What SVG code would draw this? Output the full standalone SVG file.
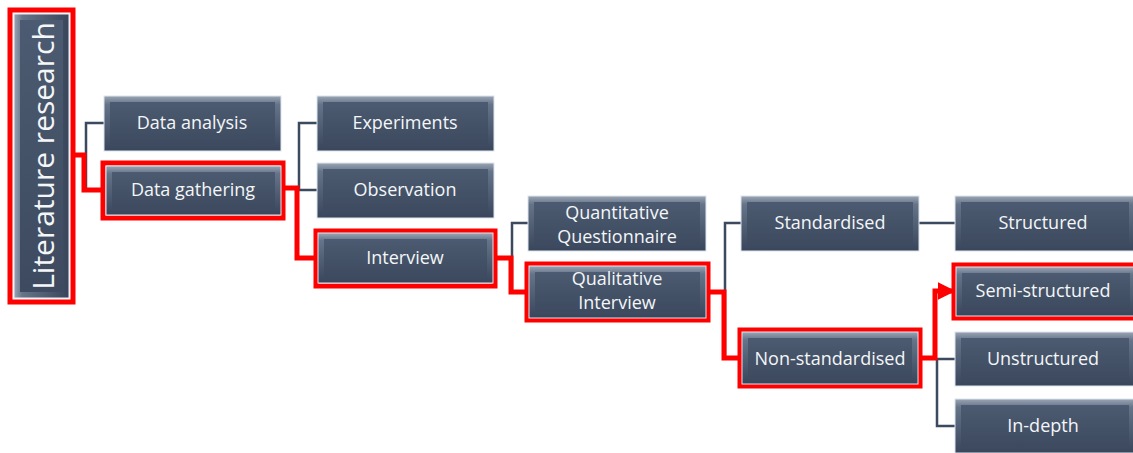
<svg xmlns="http://www.w3.org/2000/svg" width="1133" height="453" viewBox="0 0 1133 453">
<defs>
<linearGradient id="bev" x1="0" y1="0" x2="0" y2="1">
<stop offset="0" stop-color="#9aa5b3"/><stop offset="0.15" stop-color="#66748a"/><stop offset="1" stop-color="#38455a"/>
</linearGradient>
<linearGradient id="face" x1="0" y1="0" x2="0" y2="1">
<stop offset="0" stop-color="#4c5b71"/><stop offset="1" stop-color="#3d4a5f"/>
</linearGradient>
<linearGradient id="bevV" x1="0" y1="0" x2="1" y2="0">
<stop offset="0" stop-color="#9aa5b3"/><stop offset="0.15" stop-color="#66748a"/><stop offset="1" stop-color="#38455a"/>
</linearGradient>
<marker id="arr" viewBox="0 0 10 10" refX="8" refY="5" markerWidth="3.6" markerHeight="3.6" orient="auto" markerUnits="strokeWidth">
<path d="M0,0 L10,5 L0,10 z" fill="#ff0000"/>
</marker>
</defs>
<style>
.o{fill:url(#bev);stroke:#dce6f0;stroke-width:1}
.f{fill:url(#face)}
.hl{fill:none;stroke:#ff0000;stroke-width:5}
.t{font-family:"Open Sans","Liberation Sans",sans-serif;font-size:18px;fill:#f4f6f8;text-anchor:middle}
.c{fill:none;stroke:#3b4a5e;stroke-width:2.5}
.r{fill:none;stroke:#ff0000;stroke-width:5;stroke-linejoin:miter}
</style>
<g id="connectors">
<path class="c" d="M104,123 H86 V190 H101"/>
<path class="c" d="M317,123 H299 V190 H317"/>
<path class="c" d="M528,223 H512 V292"/>
<path class="c" d="M741,223 H725 V358"/>
<path class="c" d="M919,223 H955"/>
<path class="c" d="M955,359 H937 V426 H955"/>
<path class="r" d="M73,155 H84 V190 H101"/>
<path class="r" d="M285,188 H297 V258 H314"/>
<path class="r" d="M497,258 H511 V292 H525"/>
<path class="r" d="M710,292 H724 V358 H738"/>
<path class="r" d="M922,358 H935 V291 H952" marker-end="url(#arr)"/>
</g>
<g id="n-lit">
<rect x="10" y="10" width="63" height="292" fill="none" stroke="#ff0000" stroke-width="5"/>
<rect x="14" y="14" width="55" height="284" fill="url(#bevV)" stroke="#e8eef5" stroke-width="1"/>
<rect x="20" y="20" width="43" height="272" class="f"/>
<text class="t" transform="translate(54,156) rotate(-90)" style="font-size:30px">Literature research</text>
</g>
<g id="n-analysis">
<rect x="104" y="96" width="177" height="55" class="o"/>
<rect x="110" y="102" width="165" height="43" class="f"/>
<text class="t" x="192" y="129">Data analysis</text>
</g>
<g id="n-gathering">
<rect x="103" y="163" width="180" height="55" class="hl"/>
<rect x="106" y="166" width="175" height="49" class="o"/>
<rect x="112" y="172" width="163" height="37" class="f"/>
<text class="t" x="193" y="196">Data gathering</text>
</g>
<g id="n-experiments">
<rect x="317" y="96" width="177" height="55" class="o"/>
<rect x="323" y="102" width="165" height="43" class="f"/>
<text class="t" x="405" y="129">Experiments</text>
</g>
<g id="n-observation">
<rect x="317" y="163" width="177" height="55" class="o"/>
<rect x="323" y="169" width="165" height="43" class="f"/>
<text class="t" x="405" y="196">Observation</text>
</g>
<g id="n-interview">
<rect x="316" y="231" width="179" height="55" class="hl"/>
<rect x="318" y="233" width="175" height="50" class="o"/>
<rect x="324" y="239" width="163" height="38" class="f"/>
<text class="t" x="405" y="264">Interview</text>
</g>
<g id="n-quant">
<rect x="528" y="196" width="178" height="55" class="o"/>
<rect x="534" y="202" width="166" height="43" class="f"/>
<text class="t" x="617" y="219">Quantitative</text>
<text class="t" x="617" y="243">Questionnaire</text>
</g>
<g id="n-qual">
<rect x="527" y="264" width="181" height="56" class="hl"/>
<rect x="529" y="266" width="177" height="52" class="o"/>
<rect x="535" y="272" width="165" height="40" class="f"/>
<text class="t" x="617" y="285">Qualitative</text>
<text class="t" x="617" y="309">Interview</text>
</g>
<g id="n-std">
<rect x="741" y="196" width="178" height="55" class="o"/>
<rect x="747" y="202" width="166" height="43" class="f"/>
<text class="t" x="830" y="229">Standardised</text>
</g>
<g id="n-nonstd">
<rect x="740" y="330" width="180" height="56" class="hl"/>
<rect x="742" y="332" width="176" height="52" class="o"/>
<rect x="748" y="338" width="164" height="40" class="f"/>
<text class="t" x="830" y="365">Non-standardised</text>
</g>
<g id="n-structured">
<rect x="955" y="196" width="180" height="55" class="o"/>
<rect x="961" y="202" width="168" height="43" class="f"/>
<text class="t" x="1043" y="229">Structured</text>
</g>
<g id="n-semi">
<rect x="954" y="265" width="182" height="53" class="hl"/>
<rect x="956" y="267" width="180" height="49" class="o"/>
<rect x="962" y="273" width="168" height="37" class="f"/>
<text class="t" x="1043" y="297">Semi-structured</text>
</g>
<g id="n-unstructured">
<rect x="955" y="332" width="180" height="54" class="o"/>
<rect x="961" y="338" width="168" height="42" class="f"/>
<text class="t" x="1043" y="365">Unstructured</text>
</g>
<g id="n-indepth">
<rect x="955" y="399" width="180" height="54" class="o"/>
<rect x="961" y="405" width="168" height="42" class="f"/>
<text class="t" x="1043" y="432">In-depth</text>
</g>
</svg>
